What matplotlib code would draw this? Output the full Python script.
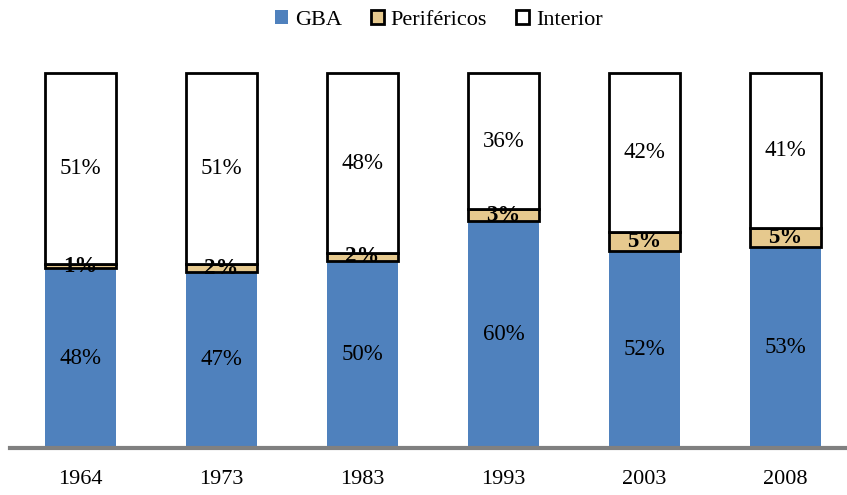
import matplotlib
matplotlib.use("Agg")
import matplotlib.pyplot as plt
import numpy as np
from matplotlib.patches import Patch

years = ["1964", "1973", "1983", "1993", "2003", "2008"]
gba = [48, 47, 50, 60, 52, 53]
perifericos = [1, 2, 2, 3, 5, 5]
interior = [51, 51, 48, 36, 42, 41]

plt.rcParams['font.family'] = ['Liberation Serif', 'DejaVu Serif']

W, H = 847, 495
fig = plt.figure(figsize=(W/100, H/100), dpi=100)
ax = fig.add_axes([10/W, (H-448)/H, 846/W, (448-73)/H])

g = np.array(gba, float)
p = np.array(perifericos, float)
i = np.array(interior, float)
tot = g + p + i
gs, ps, is_ = g/tot*100, p/tot*100, i/tot*100
x = np.arange(len(years))
bw = 0.51

c_gba = "#4F81BD"
c_per = "#E6C98E"
ax.bar(x, gs, bw, color=c_gba, edgecolor='none', clip_on=False)
ax.bar(x, ps, bw, bottom=gs, color=c_per, edgecolor='black', linewidth=2, clip_on=False)
ax.bar(x, is_, bw, bottom=gs+ps, color='white', edgecolor='black', linewidth=2, clip_on=False)

fs = 16.5
for k in range(len(years)):
    ax.text(x[k], gs[k]/2, f"{gba[k]}%", ha='center', va='center', fontsize=fs)
    ax.text(x[k], gs[k]+ps[k]/2, f"{perifericos[k]}%", ha='center', va='center',
            fontsize=fs, fontweight='bold')
    ax.text(x[k], gs[k]+ps[k]+is_[k]/2, f"{interior[k]}%", ha='center', va='center', fontsize=fs)

ax.set_xlim(-0.5, len(years)-0.5)
ax.set_ylim(0, 100)
ax.set_yticks([])
ax.set_xticks(x)
ax.set_xticklabels(years, fontsize=16)
ax.tick_params(axis='x', length=0, pad=16)
for s in ['top', 'right', 'left']:
    ax.spines[s].set_visible(False)
ax.spines['bottom'].set_color('#808080')
ax.spines['bottom'].set_linewidth(3)

handles = [Patch(facecolor=c_gba, edgecolor='none', label='GBA'),
           Patch(facecolor=c_per, edgecolor='black', linewidth=2, label='Periféricos'),
           Patch(facecolor='white', edgecolor='black', linewidth=2, label='Interior')]
fig.legend(handles=handles, loc='center', bbox_to_anchor=(0.518, 1-20/H), ncol=3,
           frameon=False, fontsize=16, handlelength=0.6, handleheight=0.6,
           handletextpad=0.3, columnspacing=1.3)

fig.savefig("out.png", dpi=100)
